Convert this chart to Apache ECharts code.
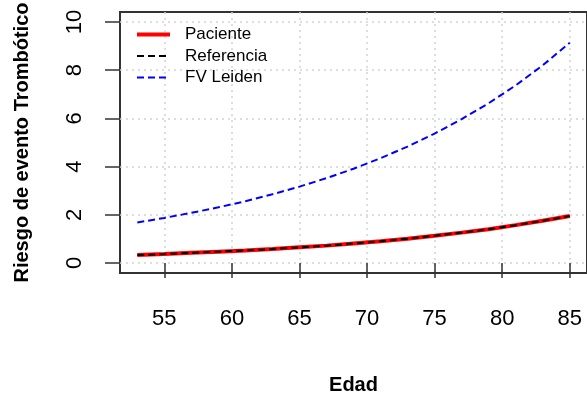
<!DOCTYPE html>
<html>
<head>
<meta charset="utf-8">
<script src="https://cdn.jsdelivr.net/npm/echarts@6/dist/echarts.min.js"></script>
<style>
  html, body { margin: 0; padding: 0; background: #fff; }
  #chart { width: 587px; height: 400px; }
</style>
</head>
<body>
<div id="chart"></div>
<script>
// edad (años) y riesgo
const ages = [53, 55, 57, 59, 61, 63, 65, 67, 69, 71, 73, 75, 77, 79, 81, 83, 85]
const paciente = [0.33, 0.37, 0.42, 0.47, 0.52, 0.58, 0.65, 0.72, 0.81, 0.90, 1.01, 1.13, 1.26, 1.40, 1.57, 1.75, 1.95]
const referencia = [0.33, 0.37, 0.42, 0.47, 0.52, 0.58, 0.65, 0.72, 0.81, 0.90, 1.01, 1.13, 1.26, 1.40, 1.57, 1.75, 1.95]
const fvLeiden = [1.68, 1.87, 2.08, 2.31, 2.56, 2.85, 3.17, 3.52, 3.91, 4.35, 4.83, 5.37, 5.97, 6.63, 7.37, 8.20, 9.14]
const xTicks = [55, 60, 65, 70, 75, 80, 85]
const yTicks = [0, 2, 4, 6, 8, 10]

const pairs = vals => ages.map((a, i) => [a, vals[i]])

const font = 'Liberation Sans, Arial, sans-serif'
const gridLine = { show: true, lineStyle: { color: '#d3d3d3', width: 1.5, type: [2, 4] } }
const tick = { show: true, inside: false, length: 15, lineStyle: { color: '#333', width: 1.5 } }

const chart = echarts.init(document.getElementById('chart'))
chart.setOption({
  animation: false,
  grid: {
    left: 120, right: -2, top: 12, bottom: 117,
    show: true, borderColor: '#333', borderWidth: 2, backgroundColor: 'transparent'
  },
  legend: {
    orient: 'vertical', left: 130, top: 21, itemWidth: 33, itemHeight: 14, itemGap: 4.5,
    itemStyle: { opacity: 0 },
    lineStyle: { width: 'inherit' },
    textStyle: { fontFamily: font, fontSize: 17, color: '#000', padding: [0, 0, 0, 10] },
    data: ['Paciente', 'Referencia', 'FV Leiden']
  },
  xAxis: {
    type: 'value', min: 51.72, max: 86.28,
    name: 'Edad', nameLocation: 'middle', nameGap: 102,
    nameTextStyle: { fontFamily: font, fontSize: 20, fontWeight: 'bold', color: '#000' },
    axisLine: { show: false },
    axisTick: Object.assign({ customValues: xTicks }, tick),
    axisLabel: { customValues: xTicks, margin: 35, fontFamily: font, fontSize: 22, color: '#000' },
    splitLine: gridLine
  },
  yAxis: {
    type: 'value', min: -0.416, max: 10.416,
    name: 'Riesgo de evento Trombótico', nameLocation: 'middle', nameGap: 88,
    nameTextStyle: { fontFamily: font, fontSize: 20, fontWeight: 'bold', color: '#000' },
    axisLine: { show: false },
    axisTick: Object.assign({ customValues: yTicks }, tick),
    axisLabel: { customValues: yTicks, rotate: 90, margin: 34, fontFamily: font, fontSize: 22, color: '#000' },
    splitLine: gridLine
  },
  series: [
    {
      name: 'Paciente', type: 'line', data: pairs(paciente), showSymbol: false, symbol: 'none',
      color: '#ff0000', lineStyle: { color: '#ff0000', width: 4 }
    },
    {
      name: 'Referencia', type: 'line', data: pairs(referencia), showSymbol: false, symbol: 'none',
      color: '#000', lineStyle: { color: '#000', width: 2, type: [7, 4] }
    },
    {
      name: 'FV Leiden', type: 'line', data: pairs(fvLeiden), showSymbol: false, symbol: 'none',
      color: '#0000ff', lineStyle: { color: '#0000ff', width: 2, type: [7, 4] }
    }
  ]
})
</script>
</body>
</html>
